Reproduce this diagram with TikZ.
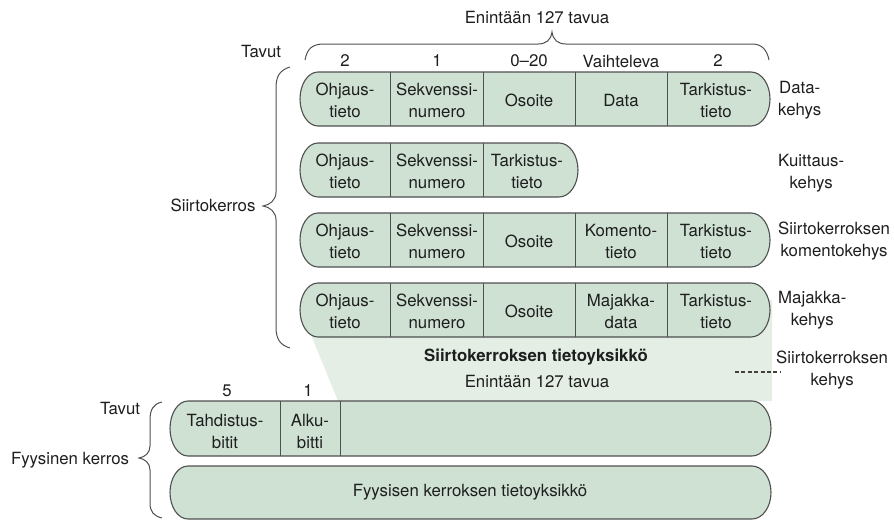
\documentclass[tikz,border=0pt]{standalone}
\usepackage{fontspec}
\setmainfont{TeX Gyre Heros}
\definecolor{cellfill}{RGB}{206,225,211}
\definecolor{pdufill}{RGB}{228,238,229}
\definecolor{edge}{RGB}{80,80,80}
\definecolor{ink}{RGB}{30,30,30}
\tikzset{
  cell/.style={fill=cellfill, draw=edge, line width=1.1pt},
  sep/.style={draw=edge, line width=0.9pt},
  lbl/.style={font=\fontsize{16.8}{22}\selectfont, text=ink, inner sep=0pt, align=center},
  boldlbl/.style={lbl, font=\fontsize{16.8}{22}\selectfont\bfseries},
  brace/.style={draw=edge, line width=1pt},
}
% frame outline with rounded ends: left, right, top, bottom
\newcommand\framepill[4]{%
  \path[cell] ({#1+18},#3)
    arc[start angle=90,end angle=270,x radius=18pt,y radius={0.5*(#4-#3)*1pt}]
    -- ({#2-19},#4)
    arc[start angle=-90,end angle=90,x radius=19pt,y radius={0.5*(#4-#3)*1pt}]
    -- cycle;}
% field separator: x, top, bottom
\newcommand\fieldsep[3]{\draw[sep] (#1,#2) -- (#1,#3);}
\begin{document}
\begin{tikzpicture}[x=1pt,y=-1pt]
\useasboundingbox (0,0) rectangle (894,520);

% expansion of the link-layer PDU into the physical frame
\fill[pdufill] (305,320) -- (772,300) -- (772,401) -- (338,401) -- cycle;

% ---- link-layer frames ----
% data frame
\framepill{300}{770}{72}{126}
\foreach \x in {390,483,575,667} {\fieldsep{\x}{72}{126}}
% acknowledgement frame
\framepill{300}{578}{143}{197}
\foreach \x in {390,483} {\fieldsep{\x}{143}{197}}
% MAC command frame
\framepill{300}{770}{213}{267}
\foreach \x in {390,483,575,667} {\fieldsep{\x}{213}{267}}
% beacon frame
\framepill{300}{770}{283}{337}
\foreach \x in {390,483,575,667} {\fieldsep{\x}{283}{337}}

% ---- physical frames ----
\framepill{170}{771}{401}{456}
\foreach \x in {280,340} {\fieldsep{\x}{401}{456}}
\framepill{170}{771}{466}{519}

% ---- braces ----
\draw[brace] (305,60) .. controls (307,49) and (312,44) .. (324,44) -- (538,44)
  .. controls (546,44) and (551,40) .. (552,32)
  .. controls (553,40) and (558,44) .. (566,44) -- (752,44)
  .. controls (762,44) and (767,50) .. (769,60);
\draw[brace] (290,67) .. controls (280,70) and (276,76) .. (276,88) -- (276,192)
  .. controls (276,200) and (270,205) .. (263,206)
  .. controls (270,207) and (276,212) .. (276,220) -- (276,327)
  .. controls (276,339) and (280,345) .. (290,348);
\draw[brace] (162,402) .. controls (153,404) and (150,410) .. (150,420) -- (150,446)
  .. controls (150,453) and (145,457) .. (139,458)
  .. controls (145,459) and (150,463) .. (150,470) -- (150,503)
  .. controls (150,512) and (154,516) .. (162,518);

% ---- headings and byte counts ----
\node[lbl] (maxlen) at (537,17) {Enintään 127 tavua};
\node[lbl] (bytes1) at (261,51) {Tavut};
\node[lbl] (n1) at (345,61) {2};
\node[lbl] (n2) at (437,61) {1};
\node[lbl] (n3) at (529,61) {0\textendash 20};
\node[lbl] (n4) at (621,61) {Vaihteleva};
\node[lbl] (n5) at (718,61) {2};
\node[lbl] (link) at (213,205) {Siirtokerros};

% ---- field texts ----
% data frame
\node[lbl] (a1) at (345,100) {Ohjaus-\\tieto};
\node[lbl] (a2) at (437,100) {Sekvenssi-\\numero};
\node[lbl] (a3) at (529,100) {Osoite};
\node[lbl] (a4) at (621,100) {Data};
\node[lbl] (a5) at (716,100) {Tarkistus-\\tieto};
% acknowledgement frame
\node[lbl] (b1) at (345,171) {Ohjaus-\\tieto};
\node[lbl] (b2) at (437,171) {Sekvenssi-\\numero};
\node[lbl] (b3) at (527,171) {Tarkistus-\\tieto};
% MAC command frame
\node[lbl] (c1) at (345,241) {Ohjaus-\\tieto};
\node[lbl] (c2) at (437,241) {Sekvenssi-\\numero};
\node[lbl] (c3) at (529,241) {Osoite};
\node[lbl] (c4) at (621,241) {Komento-\\tieto};
\node[lbl] (c5) at (716,241) {Tarkistus-\\tieto};
% beacon frame
\node[lbl] (d1) at (345,311) {Ohjaus-\\tieto};
\node[lbl] (d2) at (437,311) {Sekvenssi-\\numero};
\node[lbl] (d3) at (529,311) {Osoite};
\node[lbl] (d4) at (621,311) {Majakka-\\data};
\node[lbl] (d5) at (716,311) {Tarkistus-\\tieto};

% ---- frame names ----
\node[lbl, anchor=west] (fdata) at (778,100) {Data-\\kehys};
\node[lbl, anchor=west] (fack) at (778,173) {Kuittaus-\\kehys};
\node[lbl, anchor=west] (fcmd) at (778,241) {Siirtokerroksen\\komentokehys};
\node[lbl, anchor=west] (fbeacon) at (778,310) {Majakka-\\kehys};
\node[lbl, anchor=west] (fmac) at (776,370) {Siirtokerroksen\\kehys};
\coordinate (dashstart) at (735,372);
\draw[draw=black!75, line width=1.3pt, dash pattern=on 4pt off 2.4pt] (dashstart) -- ([xshift=4pt]fmac.west |- dashstart);

% ---- link-layer PDU caption ----
\node[boldlbl] (pdu) at (536,357) {Siirtokerroksen tietoyksikkö};
\node[lbl] (pdulen) at (537,381) {Enintään 127 tavua};

% ---- physical layer ----
\node[lbl] (bytes2) at (120,408) {Tavut};
\node[lbl] (m1) at (227,391) {5};
\node[lbl] (m2) at (308,391) {1};
\node[lbl] (p1) at (225,431) {Tahdistus-\\bitit};
\node[lbl] (p2) at (310,431) {Alku-\\bitti};
\node[lbl] (p3) at (470,492) {Fyysisen kerroksen tietoyksikkö};
\node[lbl] (phy) at (70,460) {Fyysinen kerros};
\end{tikzpicture}
\end{document}
